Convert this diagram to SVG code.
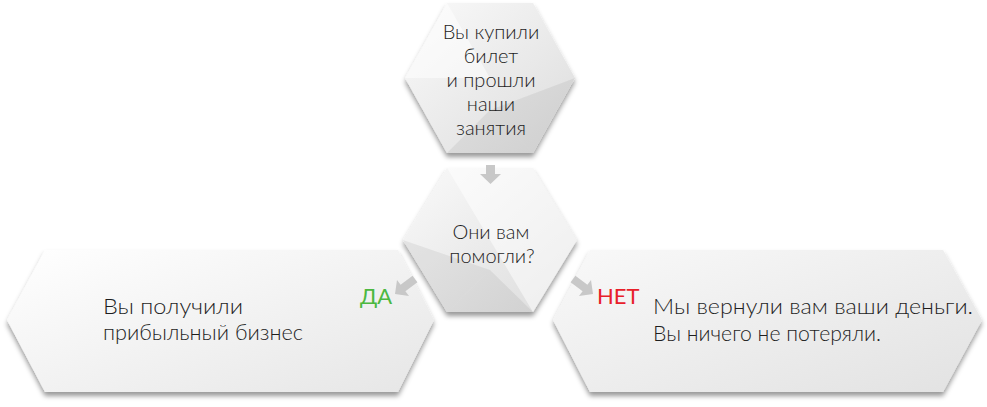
<svg xmlns="http://www.w3.org/2000/svg" width="987" height="407" viewBox="0 0 987 407">
  <defs>
    <filter id="sh" x="-10%" y="-10%" width="120%" height="130%">
      <feDropShadow dx="0" dy="4" stdDeviation="2.5" flood-color="#000" flood-opacity="0.4"/>
    </filter>
    <linearGradient id="gBox" x1="0" y1="0" x2="1" y2="1">
      <stop offset="0" stop-color="#ffffff"/>
      <stop offset="1" stop-color="#e6e6e6"/>
    </linearGradient>
    <linearGradient id="gBoxR" x1="0" y1="0" x2="1" y2="1">
      <stop offset="0" stop-color="#f9f9f9"/>
      <stop offset="1" stop-color="#e2e2e2"/>
    </linearGradient>
    <linearGradient id="gHex" x1="0" y1="0" x2="1" y2="1">
      <stop offset="0" stop-color="#fafafa"/>
      <stop offset="1" stop-color="#dcdcdc"/>
    </linearGradient>
    <style>
      .txt{font-family:Lato,"Open Sans","Liberation Sans",sans-serif;font-weight:300;font-size:21px;fill:#1e1e1e}
      .hx{font-size:20px}
      .mid{text-anchor:middle}
      .arrow{fill:#c8c8c8}
      .facetD{fill:#000;opacity:0.06}
      .facetL{fill:#fff;opacity:0.5}
      .lbl{font-family:Lato,"Open Sans","Liberation Sans",sans-serif;font-size:22px}
    </style>
  </defs>

  <g id="node-yes">
    <polygon points="45,250 398,250 434,320 398,392 45,392 7,320" fill="url(#gBox)" filter="url(#sh)"/>
    <text class="txt" x="103" y="314" textLength="140" lengthAdjust="spacingAndGlyphs">Вы получили</text>
    <text class="txt" x="103" y="340" textLength="200" lengthAdjust="spacingAndGlyphs">прибыльный бизнес</text>
  </g>

  <g id="node-no">
    <polygon points="590,250 943,250 982,320 943,392 590,392 553,320" fill="url(#gBoxR)" filter="url(#sh)"/>
    <text class="txt" x="653" y="314" textLength="320" lengthAdjust="spacingAndGlyphs">Мы вернули вам ваши деньги.</text>
    <text class="txt" x="653" y="341" textLength="228" lengthAdjust="spacingAndGlyphs">Вы ничего не потеряли.</text>
  </g>

  <g id="node-bought">
    <polygon points="447,3 533,3 575,78 533,153 447,153 405,78" fill="url(#gHex)" filter="url(#sh)"/>
    <polygon class="facetL" points="447,3 405,78 490,78"/>
    <polygon class="facetD" points="575,78 533,153 490,110"/>
    <polygon class="facetD" points="447,153 533,153 490,110"/>
    <text class="txt hx mid" x="491" y="39">Вы купили</text>
    <text class="txt hx mid" x="491" y="63">билет</text>
    <text class="txt hx mid" x="491" y="87">и прошли</text>
    <text class="txt hx mid" x="491" y="111">наши</text>
    <text class="txt hx mid" x="491" y="135">занятия</text>
  </g>

  <g id="node-helped">
    <polygon points="447,168 533,168 577,240 533,312 447,312 403,240" fill="url(#gHex)" filter="url(#sh)"/>
    <polygon class="facetL" points="447,168 533,168 577,240 533,312"/>
    <polygon class="facetD" points="403,240 447,312 490,270"/>
    <polygon class="facetD" points="447,312 533,312 490,270"/>
    <text class="txt hx mid" x="491" y="239">Они вам</text>
    <text class="txt hx mid" x="492" y="263">помогли?</text>
  </g>

  <g id="connectors">
    <polygon class="arrow" points="486,165 495,165 495,174 501,174 490.5,184 480,174 486,174"/>
    <polygon class="arrow" points="417.4,282.2 405.4,291.2 409,296 395,294 397,280 400.6,284.8 412.6,275.8"/>
    <polygon class="arrow" points="570.6,282.2 582.6,291.2 579,296 593,294 591,280 587.4,284.8 575.4,275.8"/>
    <text class="lbl" x="360" y="304" fill="#4cb840">ДА</text>
    <text class="lbl" x="597" y="304" fill="#e8202a">НЕТ</text>
  </g>
</svg>
